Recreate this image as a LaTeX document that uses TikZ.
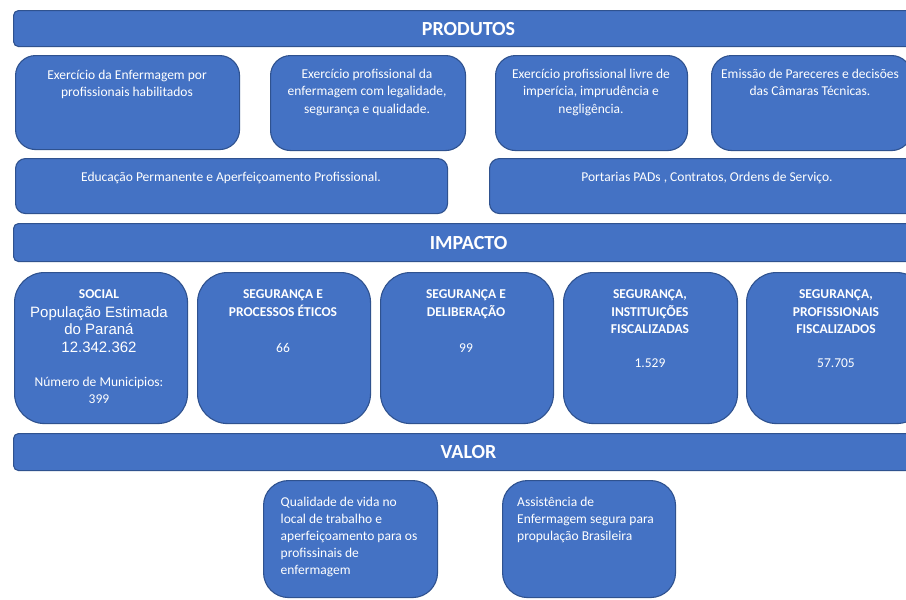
\documentclass[tikz,border=0pt]{standalone}
\usepackage{fontspec}
\setmainfont{Carlito}
\newfontfamily\popfont{Liberation Sans}
\definecolor{fillc}{HTML}{4472C4}
\definecolor{bordc}{HTML}{2F528F}
\tikzset{
  shp/.style={draw=bordc, fill=fillc, line width=1.1pt, anchor=north west, inner sep=0pt},
  barbox/.style={shp, rounded corners=5pt, minimum width=910pt, minimum height=#1},
  cbox/.style n args={3}{shp, rounded corners=#1, minimum width=#2, minimum height=#3},
  tx/.style={text=white, inner sep=0pt, anchor=north, align=center, font=\fontsize{13.5}{17.5}\selectfont},
  txl/.style={tx, anchor=north west, align=left, font=\fontsize{13.5}{17}\selectfont},
  bt/.style={text=white, inner sep=0pt, font=\bfseries\fontsize{20}{24}\selectfont},
  ht/.style={tx, font=\bfseries\fontsize{13.5}{17.5}\selectfont},
  pt/.style={tx, font=\popfont\fontsize{15}{17.5}\selectfont},
}
\begin{document}
\begin{tikzpicture}[x=1pt,y=-1pt]
\useasboundingbox (0,0) rectangle (906,600);
\clip (0,0) rectangle (906,600);
\fill[white] (0,0) rectangle (906,600);

% PRODUTOS
\node[barbox=36pt] (prod) at (13,10) {};
\node[bt] (prodt) at (prod.center) {PRODUTOS};

\node[cbox={20pt}{224pt}{94pt}] (b1) at (15,55) {};
\node[cbox={20pt}{195pt}{95pt}] (b2) at (270,55) {};
\node[cbox={20pt}{192pt}{95pt}] (b3) at (495,55) {};
\node[cbox={20pt}{200pt}{95pt}] (b4) at (711,55) {};
\node[cbox={10pt}{432pt}{55pt}] (b5) at (15,158) {};
\node[cbox={10pt}{436pt}{55pt}] (b6) at (489,158) {};

\node[tx] (b1t) at (127,67) {\strut Exercício da Enfermagem por\\profissionais habilitados};
\node[tx] (b2t) at (367,66) {\strut Exercício profissional da\\enfermagem com legalidade,\\segurança e qualidade.};
\node[tx] (b3t) at (591,66) {\strut Exercício profissional livre de\\imperícia, imprudência e\\negligência.};
\node[tx] (b4t) at (810,66) {\strut Emissão de Pareceres e decisões\\das Câmaras Técnicas.};
\node[tx] (b5t) at (231,169) {\strut Educação Permanente e Aperfeiçoamento Profissional.};
\node[tx] (b6t) at (707,169) {\strut Portarias PADs , Contratos, Ordens de Serviço.};

% IMPACTO
\node[barbox=38pt] (imp) at (13,223) {};
\node[bt] (impt) at (imp.center) {IMPACTO};

\node[cbox={30pt}{173pt}{151pt}] (i1) at (14,272) {};
\node[cbox={30pt}{173pt}{151pt}] (i2) at (197,272) {};
\node[cbox={30pt}{173pt}{151pt}] (i3) at (380,272) {};
\node[cbox={30pt}{174pt}{151pt}] (i4) at (563,272) {};
\node[cbox={30pt}{180pt}{151pt}] (i5) at (746,272) {};

\node[ht] (i1a) at (99,286.5) {\strut SOCIAL};
\node[pt] (i1b) at (99,305) {\strut População  Estimada\\do Paraná\\12.342.362};
\node[tx] (i1c) at (99,374) {\strut Número de Municipios:\\399};

\node[ht] (i2a) at (283,286.5) {\strut SEGURANÇA E\\PROCESSOS ÉTICOS};
\node[tx] (i2b) at (283,340.5) {\strut 66};
\node[ht] (i3a) at (466,286.5) {\strut SEGURANÇA E\\DELIBERAÇÃO};
\node[tx] (i3b) at (466,340.5) {\strut 99};
\node[ht] (i4a) at (650,286.5) {\strut SEGURANÇA,\\INSTITUIÇÕES\\FISCALIZADAS};
\node[tx] (i4b) at (650,355.5) {\strut 1.529};
\node[ht] (i5a) at (836,286.5) {\strut SEGURANÇA,\\PROFISSIONAIS\\FISCALIZADOS};
\node[tx] (i5b) at (836,355.5) {\strut 57.705};

% VALOR
\node[barbox=37pt] (val) at (13,433) {};
\node[bt] (valt) at (val.center) {VALOR};

\node[cbox={25pt}{174pt}{117pt}] (v1) at (263,480) {};
\node[cbox={25pt}{173pt}{117pt}] (v2) at (502,480) {};
\node[txl] (v1t) at (280.5,494) {\strut Qualidade de vida no\\local de trabalho e\\aperfeiçoamento para os\\profissinais de\\enfermagem};
\node[txl] (v2t) at (517,494) {\strut Assistência de\\Enfermagem segura para\\propulação Brasileira};
\end{tikzpicture}
\end{document}
